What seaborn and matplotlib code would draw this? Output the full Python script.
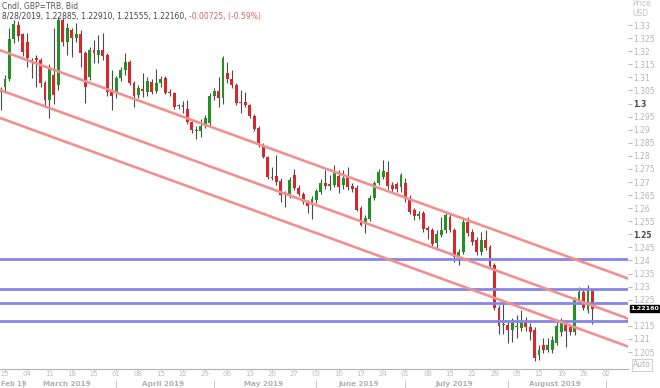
import numpy as np
import pandas as pd
import matplotlib
matplotlib.use("Agg")
import matplotlib.pyplot as plt
import matplotlib.transforms as mtransforms
import seaborn as sns

# GBP/USD daily bid candles, 22 Feb - 28 Aug 2019
opens = [1.3045, 1.3063, 1.3094, 1.3246, 1.3300, 1.3266, 1.3235, 1.3168, 1.3174, 1.3166,
         1.3078, 1.3013, 1.3109, 1.3071, 1.3320, 1.3235, 1.3281, 1.3250, 1.3266, 1.3193,
         1.3101, 1.3204, 1.3185, 1.3204, 1.3185, 1.3044, 1.3040, 1.3097, 1.3128, 1.3158,
         1.3078, 1.3032, 1.3055, 1.3044, 1.3082, 1.3048, 1.3078, 1.3097, 1.3044, 1.3040,
         1.2990, 1.2996, 1.2979, 1.2929, 1.2895, 1.2895, 1.2918, 1.2925, 1.3029, 1.3048,
         1.3021, 1.3116, 1.3094, 1.3071, 1.3005, 1.3005, 1.2994, 1.2952, 1.2906, 1.2841,
         1.2795, 1.2719, 1.2723, 1.2704, 1.2654, 1.2650, 1.2727, 1.2677, 1.2654, 1.2623,
         1.2612, 1.2631, 1.2662, 1.2696, 1.2684, 1.2688, 1.2723, 1.2688, 1.2723, 1.2684,
         1.2677, 1.2600, 1.2539, 1.2558, 1.2639, 1.2696, 1.2719, 1.2738, 1.2688, 1.2692,
         1.2680, 1.2696, 1.2639, 1.2593, 1.2570, 1.2581, 1.2524, 1.2516, 1.2466, 1.2497,
         1.2516, 1.2566, 1.2516, 1.2413, 1.2432, 1.2547, 1.2509, 1.2478, 1.2432, 1.2478,
         1.2451, 1.2383, 1.2218, 1.2153, 1.2153, 1.2134, 1.2149, 1.2142, 1.2165, 1.2145,
         1.2134, 1.2039, 1.2077, 1.2058, 1.2058, 1.2084, 1.2126, 1.2165, 1.2145, 1.2126,
         1.2249, 1.2280, 1.2211, 1.22885]
highs = [1.3065, 1.3110, 1.3289, 1.3320, 1.3315, 1.3270, 1.3269, 1.3174, 1.3185, 1.3175,
         1.3085, 1.3150, 1.3289, 1.3330, 1.3328, 1.3308, 1.3290, 1.3308, 1.3280, 1.3200,
         1.3215, 1.3243, 1.3262, 1.3269, 1.3195, 1.3128, 1.3105, 1.3140, 1.3193, 1.3165,
         1.3085, 1.3070, 1.3116, 1.3100, 1.3095, 1.3132, 1.3105, 1.3105, 1.3055, 1.3045,
         1.3000, 1.3010, 1.3013, 1.2935, 1.2915, 1.2940, 1.2955, 1.3040, 1.3060, 1.3101,
         1.3180, 1.3160, 1.3128, 1.3080, 1.3052, 1.3044, 1.3000, 1.2960, 1.2915, 1.2850,
         1.2800, 1.2757, 1.2803, 1.2715, 1.2665, 1.2720, 1.2750, 1.2690, 1.2660, 1.2630,
         1.2645, 1.2675, 1.2710, 1.2746, 1.2727, 1.2765, 1.2746, 1.2745, 1.2757, 1.2695,
         1.2690, 1.2610, 1.2575, 1.2650, 1.2705, 1.2750, 1.2784, 1.2780, 1.2700, 1.2700,
         1.2734, 1.2715, 1.2650, 1.2600, 1.2590, 1.2590, 1.2530, 1.2525, 1.2515, 1.2566,
         1.2585, 1.2580, 1.2525, 1.2445, 1.2560, 1.2566, 1.2520, 1.2490, 1.2509, 1.2516,
         1.2460, 1.2390, 1.2230, 1.2249, 1.2170, 1.2180, 1.2191, 1.2211, 1.2184, 1.2160,
         1.2145, 1.2075, 1.2103, 1.2103, 1.2110, 1.2176, 1.2180, 1.2172, 1.2155, 1.2260,
         1.2300, 1.2295, 1.2306, 1.22910]
lows = [1.2975, 1.3040, 1.3085, 1.3230, 1.3240, 1.3180, 1.3140, 1.3097, 1.3063, 1.3063,
        1.2987, 1.2944, 1.3000, 1.3050, 1.3220, 1.3185, 1.3178, 1.3235, 1.3140, 1.3002,
        1.3090, 1.3155, 1.3155, 1.3166, 1.3030, 1.2975, 1.3020, 1.3088, 1.3110, 1.3070,
        1.2987, 1.3020, 1.3025, 1.3030, 1.3035, 1.3040, 1.3065, 1.3035, 1.3030, 1.2980,
        1.2980, 1.2965, 1.2920, 1.2887, 1.2864, 1.2872, 1.2905, 1.2915, 1.3015, 1.2987,
        1.3000, 1.3080, 1.3060, 1.2995, 1.2964, 1.2985, 1.2945, 1.2895, 1.2835, 1.2790,
        1.2713, 1.2707, 1.2690, 1.2623, 1.2604, 1.2640, 1.2670, 1.2645, 1.2615, 1.2581,
        1.2558, 1.2620, 1.2655, 1.2675, 1.2669, 1.2680, 1.2658, 1.2675, 1.2670, 1.2660,
        1.2588, 1.2530, 1.2505, 1.2550, 1.2630, 1.2690, 1.2710, 1.2675, 1.2660, 1.2660,
        1.2660, 1.2625, 1.2578, 1.2555, 1.2560, 1.2510, 1.2482, 1.2455, 1.2440, 1.2490,
        1.2505, 1.2510, 1.2394, 1.2383, 1.2425, 1.2495, 1.2460, 1.2420, 1.2420, 1.2440,
        1.2370, 1.2210, 1.2120, 1.2120, 1.2084, 1.2090, 1.2104, 1.2130, 1.2130, 1.2096,
        1.2015, 1.2020, 1.2045, 1.2050, 1.2045, 1.2075, 1.2110, 1.2069, 1.2115, 1.2115,
        1.2235, 1.2210, 1.2200, 1.21555]
closes = [1.3052, 1.3094, 1.3246, 1.3304, 1.3258, 1.3197, 1.3174, 1.3164, 1.3166, 1.3078,
          1.3013, 1.3140, 1.3032, 1.3319, 1.3235, 1.3289, 1.3250, 1.3266, 1.3193, 1.3063,
          1.3204, 1.3193, 1.3204, 1.3181, 1.3044, 1.3029, 1.3097, 1.3128, 1.3160, 1.3078,
          1.3029, 1.3059, 1.3048, 1.3086, 1.3044, 1.3078, 1.3094, 1.3040, 1.3040, 1.2987,
          1.2994, 1.2986, 1.2929, 1.2899, 1.2899, 1.2914, 1.2945, 1.3029, 1.3048, 1.3021,
          1.3174, 1.3094, 1.3071, 1.3002, 1.3002, 1.2994, 1.2952, 1.2902, 1.2841, 1.2795,
          1.2719, 1.2717, 1.2700, 1.2650, 1.2650, 1.2707, 1.2677, 1.2654, 1.2623, 1.2608,
          1.2635, 1.2665, 1.2696, 1.2684, 1.2692, 1.2734, 1.2680, 1.2715, 1.2680, 1.2673,
          1.2593, 1.2535, 1.2562, 1.2639, 1.2696, 1.2738, 1.2742, 1.2684, 1.2673, 1.2673,
          1.2727, 1.2635, 1.2585, 1.2570, 1.2578, 1.2520, 1.2518, 1.2463, 1.2500, 1.2516,
          1.2574, 1.2516, 1.2413, 1.2432, 1.2547, 1.2505, 1.2470, 1.2432, 1.2478, 1.2447,
          1.2379, 1.2218, 1.2149, 1.2157, 1.2134, 1.2161, 1.2145, 1.2165, 1.2145, 1.2126,
          1.2027, 1.2058, 1.2058, 1.2077, 1.2096, 1.2149, 1.2165, 1.2130, 1.2126, 1.2249,
          1.2280, 1.2218, 1.2287, 1.22160]

# support / resistance levels and the falling channel (start price, end price)
h_levels = [1.2406, 1.2291, 1.2237, 1.2169]
channel_start = [1.3204, 1.3052, 1.2945]
channel_end = [1.2331, 1.2178, 1.2071]

day_axis = pd.bdate_range("2019-02-22", "2019-09-02")
dates = day_axis[:len(closes)]

sns.set_style("white")
plt.rcParams["font.family"] = ["DejaVu Sans"]

fig = plt.figure(figsize=(6.6, 3.88), dpi=100)
ax = fig.add_axes([0, 19 / 388, 628 / 660, 369 / 388])

df = pd.DataFrame({"date": dates, "open": opens, "high": highs, "low": lows, "close": closes})
df["pos"] = np.arange(len(df))
up = df["close"] >= df["open"]
body_col = np.where(up, "#239023", "#d8262b")
bottom = df[["open", "close"]].min(axis=1)
height = (df["close"] - df["open"]).abs().clip(lower=0.0004)

ax.vlines(df["pos"], df["low"], df["high"], color="#4a4a4a", lw=0.8, zorder=2)
ax.bar(df["pos"], height, bottom=bottom, width=0.65, color=body_col, lw=0, zorder=3)

for lvl in h_levels:
    ax.axhline(lvl, color="#8585ea", lw=2, zorder=4)

last = len(day_axis) + 4.0
for s, e in zip(channel_start, channel_end):
    seg = pd.DataFrame({"x": [-0.12, last], "y": [s, e]})
    sns.lineplot(data=seg, x="x", y="y", ax=ax, color="#f29090", lw=1.9, zorder=4)

ax.set_xlim(-0.12, last)
ax.set_ylim(1.1985, 1.3396)
ax.set_xlabel("")
ax.set_ylabel("")

# price axis on the right
yt = [round(v, 3) for v in np.arange(1.205, 1.3301, 0.005) if abs(v - 1.22) > 1e-6]
ax.yaxis.tick_right()
ax.set_yticks(yt)
ax.set_yticklabels([f"{v:.3f}".rstrip("0").rstrip(".") for v in yt])
ax.tick_params(axis="y", length=3, color="#bbbbbb", labelsize=5.5,
               labelcolor="#b5b5b5", pad=1, right=True)
for lab, v in zip(ax.get_yticklabels(), yt):
    if v in (1.3, 1.25):
        lab.set_color("#4a4a4a")
        lab.set_fontweight("bold")

# weekly date ticks
mondays = [i for i, d in enumerate(day_axis) if d.weekday() == 0]
ax.set_xticks(mondays)
ax.set_xticklabels([day_axis[i].strftime("%d") for i in mondays])
ax.tick_params(axis="x", length=1.5, color="#c8c8c8", labelsize=5,
               labelcolor="#bdbdbd", pad=0.3, bottom=True)

for sp in ["top", "left", "right"]:
    ax.spines[sp].set_visible(False)
ax.spines["bottom"].set_color("#b0b0b0")
ax.spines["bottom"].set_linewidth(0.8)

# month labels and separators
xt = ax.get_xaxis_transform()
mon_y = -(384 - 369) / 369
months = pd.Series(np.arange(len(day_axis)), index=day_axis)
for per, grp in months.groupby(day_axis.to_period("M")):
    if per.month in (3, 4, 5, 6, 7, 8):
        ax.text(grp.mean(), mon_y, grp.index[0].strftime("%B %Y"), transform=xt,
                ha="center", va="center", fontsize=5.2, color="#b0b0b0", fontweight="bold")
    if per.month != 2:
        ax.vlines(grp.iloc[0], -0.062, -0.03, transform=xt, color="#c8c8c8",
                  lw=0.7, clip_on=False)
ax.text(0.002, mon_y, "Feb 19", transform=ax.transAxes, ha="left", va="center",
        fontsize=4.9, color="#b0b0b0", fontweight="bold")

# header
fig.text(2 / 660, 1 - 6 / 388, "Cndl, GBP=TRB, Bid", fontsize=5.5, color="#555555",
         ha="left", va="center")
chg = closes[-1] - opens[-1]
hdr = fig.text(2 / 660, 1 - 16 / 388,
               f"8/28/2019, {opens[-1]:.5f}, {highs[-1]:.5f}, {lows[-1]:.5f}, {closes[-1]:.5f}, ",
               fontsize=5.5, color="#444444", ha="left", va="center")
fig.canvas.draw()
ax.annotate(f"{chg:.5f}, ({chg / opens[-1] * 100:.2f}%)", xy=(1, 0.5), xycoords=hdr,
            va="center", ha="left", fontsize=5.5, color="#e06060")

fig.text(632 / 660, 1 - 4 / 388, "Price", fontsize=5.5, color="#c0c0c0", ha="left", va="center")
fig.text(632 / 660, 1 - 14 / 388, "USD", fontsize=5.5, color="#c0c0c0", ha="left", va="center")

yt_tr = mtransforms.blended_transform_factory(ax.transAxes, ax.transData)
ax.text(1.004, closes[-1], f"{closes[-1]:.5f}", transform=yt_tr, ha="left", va="center",
        fontsize=4.6, color="white", fontweight="bold",
        bbox=dict(boxstyle="square,pad=0.12", fc="black", ec="black"))
ax.text(1.008, 0.011, "Auto", transform=ax.transAxes, ha="left", va="center",
        fontsize=5.5, color="#b5b5b5",
        bbox=dict(boxstyle="square,pad=0.15", fc="white", ec="#c8c8c8", lw=0.6))

fig.savefig("out.png", dpi=100)
